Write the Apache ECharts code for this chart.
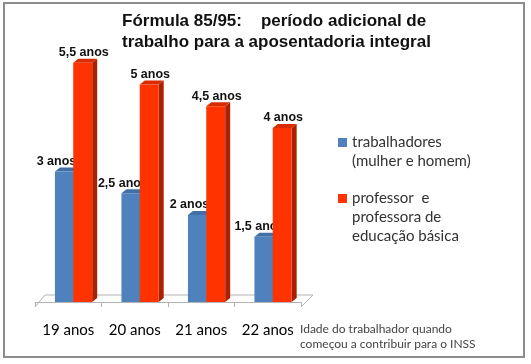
<!DOCTYPE html>
<html>
<head>
<meta charset="utf-8">
<script src="https://cdn.jsdelivr.net/npm/echarts@6/dist/echarts.min.js"></script>
<style>html,body{margin:0;padding:0;background:#fff;}#c{width:531px;height:364px;}</style>
</head>
<body>
<div id="c"></div>
<script>
const categories = ['19 anos', '20 anos', '21 anos', '22 anos'];
const workers = [3, 2.5, 2, 1.5];
const teachers = [5.5, 5, 4.5, 4];
const workerLabels = ['3 anos', '2,5 anos', '2 anos', '1,5 ano'];
const teacherLabels = ['5,5 anos', '5 anos', '4,5 anos', '4 anos'];
const seriesNames = ['trabalhadores\n(mulher e homem)', 'professor  e\nprofessora de\neducação básica'];
const titleLines = ['Fórmula 85/95:    período adicional de', 'trabalho para a aposentadoria integral'];
const noteLines = ['Idade do trabalhador quando', 'começou a contribuir para o INSS'];

const chart = echarts.init(document.getElementById('c'), null, {renderer: 'canvas'});

const palette = [
  {front: '#4F81BD', side: '#385D8A', top: '#416FA6'},
  {front: '#FF3300', side: '#A82200', top: '#D92B00'}
];

function makeRender(kind, labels) {
  return function (params, api) {
    const i = api.value(0), v = api.value(1);
    const top = api.coord([i, v]);
    const base = api.coord([i, 0]);
    const cw = api.size([1, 0])[0];
    const bw = cw * 0.285;
    const x0 = kind === 0 ? top[0] - cw * 0.2 : top[0] + cw * 0.075;
    const dx = 5, dy = -4;
    const c = palette[kind];
    const lblShift = kind === 0 ? -8 : 1;
    return {
      type: 'group',
      children: [
        {type: 'polygon', shape: {points: [[x0 + bw, top[1]], [x0 + bw + dx, top[1] + dy], [x0 + bw + dx, base[1] + dy], [x0 + bw, base[1]]]}, style: {fill: c.side}},
        {type: 'polygon', shape: {points: [[x0, top[1]], [x0 + dx, top[1] + dy], [x0 + bw + dx, top[1] + dy], [x0 + bw, top[1]]]}, style: {fill: c.top}},
        {type: 'rect', shape: {x: x0, y: top[1], width: bw, height: base[1] - top[1]}, style: {fill: c.front}},
        {type: 'text', x: x0 + bw / 2 + lblShift, y: top[1] - 10, style: {text: labels[params.dataIndex], fill: '#111', font: 'bold 12.5px "Liberation Sans", Arial, sans-serif', align: 'center', verticalAlign: 'middle'}}
      ]
    };
  };
}

function floorRender(params, api) {
  const first = api.coord([0, 0]);
  const last = api.coord([categories.length - 1, 0]);
  const cw = api.size([1, 0])[0];
  const left = first[0] - cw / 2, right = last[0] + cw / 2;
  const fy = first[1] + 5, by = first[1] - 7;
  return {
    type: 'polyline',
    shape: {points: [[left, fy], [left + 10, by], [right + 12, by], [right, fy]]},
    style: {stroke: '#b4b4b4', lineWidth: 1, fill: null}
  };
}

const legendText = {fontSize: 15, fontFamily: 'Lato, "Open Sans", sans-serif', color: '#333', lineHeight: 19};

const option = {
  backgroundColor: '#fff',
  animation: false,
  title: [
    {text: titleLines.join('\n'), left: 122, top: 11, padding: 0,
     textStyle: {fontSize: 17, fontWeight: 'bold', fontFamily: '"Liberation Sans", Arial, sans-serif', color: '#111', lineHeight: 21}},
    {text: noteLines.join('\n'), left: 300, top: 322, padding: 0,
     textStyle: {fontSize: 12, fontWeight: 'normal', fontFamily: 'Lato, "Open Sans", sans-serif', color: '#444', lineHeight: 15}}
  ],
  legend: [
    {data: [seriesNames[0]], left: 338, top: 114, padding: 0, orient: 'vertical',
     formatter: function (name) { return '\n' + name; },
     icon: 'rect', itemWidth: 9, itemHeight: 9, selectedMode: false, textStyle: legendText},
    {data: [seriesNames[1]], left: 338, top: 151, padding: 0, orient: 'vertical',
     formatter: function (name) { return '\n\n' + name; },
     icon: 'rect', itemWidth: 9, itemHeight: 9, selectedMode: false, textStyle: legendText}
  ],
  grid: {left: 35, right: 230, top: 41, bottom: 62, containLabel: false},
  xAxis: {
    type: 'category', data: categories, offset: 5,
    axisLine: {show: true, lineStyle: {color: '#b4b4b4'}},
    axisTick: {show: true, length: 5, interval: 0, alignWithLabel: false, lineStyle: {color: '#b4b4b4'}},
    axisLabel: {margin: 16, fontSize: 15, fontFamily: 'Lato, "Open Sans", sans-serif', color: '#000', interval: 0}
  },
  yAxis: {type: 'value', min: 0, max: 6, show: false, splitLine: {show: false}},
  graphic: [
    {type: 'rect', z: 100, shape: {x: 4, y: 3, width: 520, height: 354}, style: {fill: null, stroke: '#8c8c8c', lineWidth: 2}}
  ],
  series: [
    {type: 'custom', name: 'floor', renderItem: floorRender, data: [[0, 0]], encode: {x: 0, y: 1}, z: 1, silent: true},
    {type: 'custom', name: seriesNames[0], renderItem: makeRender(0, workerLabels),
     data: workers.map((v, i) => [i, v]), encode: {x: 0, y: 1}, itemStyle: {color: palette[0].front}, z: 2},
    {type: 'custom', name: seriesNames[1], renderItem: makeRender(1, teacherLabels),
     data: teachers.map((v, i) => [i, v]), encode: {x: 0, y: 1}, itemStyle: {color: palette[1].front}, z: 3}
  ]
};
chart.setOption(option);
</script>
</body>
</html>
